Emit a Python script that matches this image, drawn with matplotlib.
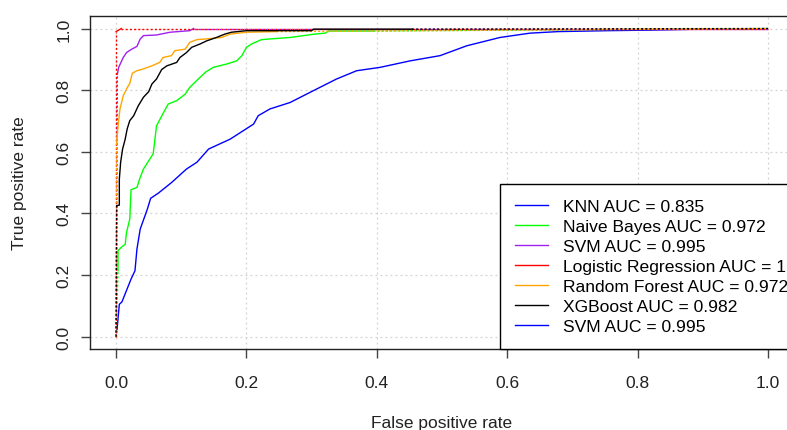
import matplotlib
matplotlib.use("Agg")
import matplotlib.pyplot as plt
from matplotlib.lines import Line2D

plt.rcParams["font.family"] = ["Liberation Sans", "DejaVu Sans"]
plt.rcParams["font.size"] = 12.5

# ROC curves (FPR, TPR)
knn_fpr = [0.0015, 0.005, 0.009, 0.023, 0.029, 0.032, 0.037, 0.048, 0.053, 0.065,
           0.085, 0.108, 0.124, 0.142, 0.175, 0.211, 0.218, 0.236, 0.267, 0.308,
           0.338, 0.369, 0.405, 0.451, 0.497, 0.538, 0.589, 0.635, 0.678, 0.753,
           0.824, 0.896, 0.967]
knn_tpr = [0.024, 0.105, 0.113, 0.187, 0.214, 0.284, 0.349, 0.414, 0.449, 0.466,
           0.500, 0.544, 0.566, 0.609, 0.641, 0.690, 0.717, 0.739, 0.760, 0.804,
           0.836, 0.863, 0.874, 0.895, 0.912, 0.944, 0.971, 0.985, 0.990, 0.993,
           0.995, 0.998, 0.998]

nb_fpr = [0.003, 0.003, 0.008, 0.014, 0.016, 0.021, 0.023, 0.032, 0.037, 0.042,
          0.057, 0.062, 0.073, 0.080, 0.093, 0.106, 0.113, 0.126, 0.137, 0.149,
          0.170, 0.185, 0.193, 0.200, 0.208, 0.223, 0.267, 0.305, 0.321, 0.326,
          0.395]
nb_tpr = [0.214, 0.279, 0.290, 0.300, 0.338, 0.381, 0.477, 0.484, 0.517, 0.544,
          0.594, 0.684, 0.728, 0.755, 0.766, 0.787, 0.809, 0.836, 0.858, 0.874,
          0.885, 0.895, 0.912, 0.939, 0.950, 0.964, 0.971, 0.982, 0.985, 0.992,
          0.992]

svm_fpr = [0.002, 0.004, 0.011, 0.016, 0.024, 0.032, 0.037, 0.042, 0.062, 0.083,
           0.113, 0.119]
svm_tpr = [0.852, 0.874, 0.906, 0.922, 0.933, 0.942, 0.966, 0.977, 0.979, 0.988,
           0.993, 1.000]

lr_fpr = [0.0, 0.008]
lr_tpr = [0.99, 1.0]

rf_fpr = [0.001, 0.003, 0.006, 0.011, 0.016, 0.021, 0.025, 0.032, 0.042, 0.055,
          0.067, 0.072, 0.085, 0.090, 0.106, 0.113, 0.124, 0.137, 0.162, 0.175,
          0.200, 0.246]
rf_tpr = [0.630, 0.684, 0.739, 0.782, 0.804, 0.822, 0.855, 0.863, 0.869, 0.879,
          0.890, 0.906, 0.912, 0.928, 0.933, 0.955, 0.964, 0.966, 0.971, 0.982,
          0.988, 0.990]

xgb_fpr = [0.001, 0.005, 0.005, 0.007, 0.010, 0.014, 0.017, 0.021, 0.027, 0.034,
           0.042, 0.050, 0.055, 0.062, 0.070, 0.078, 0.093, 0.098, 0.108, 0.116,
           0.129, 0.139, 0.154, 0.167, 0.177, 0.200, 0.300, 0.303, 0.454]
xgb_tpr = [0.425, 0.427, 0.511, 0.566, 0.609, 0.641, 0.674, 0.701, 0.717, 0.749,
           0.777, 0.795, 0.820, 0.836, 0.867, 0.879, 0.890, 0.906, 0.922, 0.939,
           0.950, 0.960, 0.971, 0.982, 0.988, 0.993, 0.993, 0.998, 0.998]

curves = [
    ("KNN AUC = 0.835", knn_fpr, knn_tpr, "blue"),
    ("Naive Bayes AUC = 0.972", nb_fpr, nb_tpr, "#00ff00"),
    ("SVM AUC = 0.995", svm_fpr, svm_tpr, "#a020f0"),
    ("Logistic Regression AUC = 1", lr_fpr, lr_tpr, "red"),
    ("Random Forest AUC = 0.972", rf_fpr, rf_tpr, "orange"),
    ("XGBoost AUC = 0.982", xgb_fpr, xgb_tpr, "black"),
]
extra_label = "SVM AUC = 0.995"
extra_color = "blue"

ticks = [0.0, 0.2, 0.4, 0.6, 0.8, 1.0]
tick_labels = ["0.0", "0.2", "0.4", "0.6", "0.8", "1.0"]

fig = plt.figure(figsize=(7.87, 4.31), dpi=100)
ax = fig.add_axes([90 / 787, 81 / 431, 704 / 787, 332.8 / 431])

for x in ticks:
    ax.axvline(x, color="#d3d3d3", linestyle=(0, (1.5, 2.5)), linewidth=0.9, zorder=0)
    ax.axhline(x, color="#d3d3d3", linestyle=(0, (1.5, 2.5)), linewidth=0.9, zorder=0)

handles = []
for label, fpr, tpr, col in curves:
    # dotted connectors from (0,0) to first point and from last point to (1,1)
    ax.plot([0, fpr[0]], [0, tpr[0]], color=col, linestyle=(0, (1.5, 1.5)),
            linewidth=1.0)
    ax.plot([fpr[-1], 1], [tpr[-1], 1], color=col, linestyle=(0, (1.5, 1.5)),
            linewidth=1.0)
    ax.plot(fpr, tpr, color=col, linewidth=1.0)
    handles.append(Line2D([], [], color=col, linewidth=1.0, label=label))
handles.append(Line2D([], [], color=extra_color, linewidth=1.0, label=extra_label))

ax.set_xlim(-0.04, 1.04)
ax.set_ylim(-0.04, 1.04)
ax.set_xticks(ticks)
ax.set_xticklabels(tick_labels)
ax.set_yticks(ticks)
ax.set_yticklabels(tick_labels, rotation=90, va="center")
ax.tick_params(length=6.5, width=1, color="#444444", labelcolor="#222222")
ax.tick_params(axis="x", pad=12)
ax.tick_params(axis="y", pad=7)
for s in ax.spines.values():
    s.set_color("#222222")
    s.set_linewidth(1)

ax.set_xlabel("False positive rate", labelpad=18, color="#222222")
ax.set_ylabel("True positive rate", labelpad=21, color="#222222")

# legend overflows the right edge of the plot, as in the reference
leg = ax.legend(handles=handles, loc="lower right", bbox_to_anchor=(1.013, 0),
                borderaxespad=0, fancybox=False, framealpha=1,
                edgecolor="black", handlelength=1.89, handletextpad=0.86,
                labelspacing=0.27, borderpad=0.86, fontsize=12.6)
leg.get_frame().set_linewidth(1)
leg.set_clip_on(False)

fig.savefig("out.png", dpi=100)
